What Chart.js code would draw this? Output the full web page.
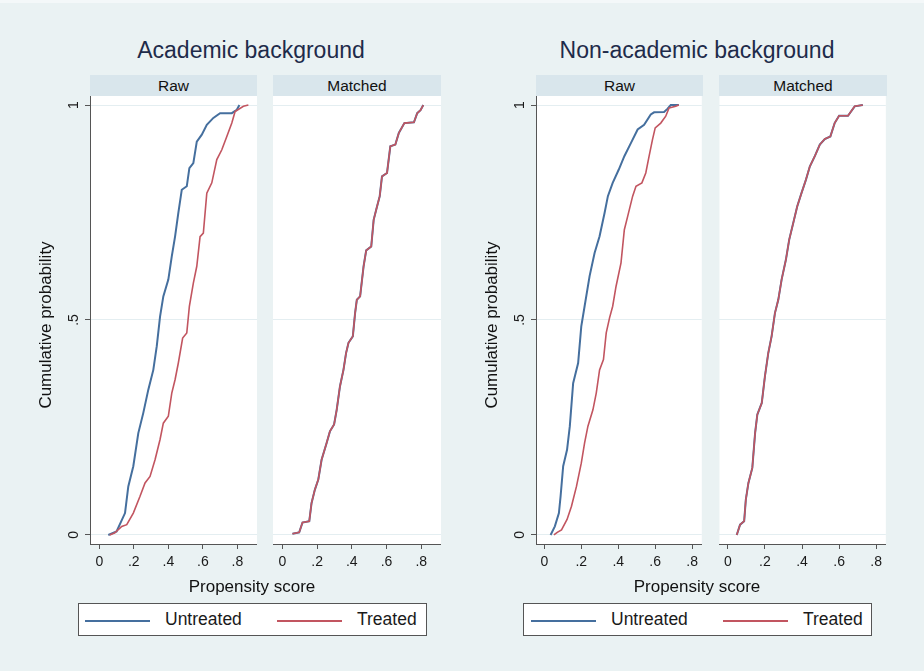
<!DOCTYPE html>
<html><head><meta charset="utf-8">
<script src="https://cdn.jsdelivr.net/npm/chart.js@4/dist/chart.umd.min.js"></script>
<style>
html,body{margin:0;padding:0;}
body{width:924px;height:671px;background:#eaf2f3;position:relative;overflow:hidden;font-family:"Liberation Sans",Arial,sans-serif;}
.abs{position:absolute;}
.topstrip{left:0;top:0;width:924px;height:3px;background:#f4f8f9;}
.title{font-size:23px;line-height:28px;color:#1e2b4a;text-align:center;white-space:nowrap;width:400px;top:36px;}
.hdr{background:#d9e6ec;font-size:15.5px;color:#111;text-align:center;line-height:21px;height:21px;top:75px;}
.xt{font-size:17px;line-height:20px;color:#111;text-align:center;white-space:nowrap;width:300px;top:577px;}
.leg{background:#fff;border:1px solid #555;box-sizing:border-box;top:603px;width:349px;height:33px;}
.ll{height:2px;width:65px;top:619.5px;}
.lt{font-size:17.5px;line-height:20px;color:#1a1a1a;top:609px;white-space:nowrap;}
canvas{position:absolute;}
</style></head><body>
<div class="abs topstrip"></div>
<canvas id="c1" width="227" height="488" style="left:30px;top:96px"></canvas>
<canvas id="c2" width="168" height="488" style="left:273px;top:96px"></canvas>
<canvas id="c3" width="227" height="488" style="left:476px;top:96px"></canvas>
<canvas id="c4" width="168" height="488" style="left:719px;top:96px"></canvas>
<div id="t1" class="abs title" style="left:51px"></div>
<div id="t2" class="abs title" style="left:497px"></div>
<div id="h1" class="abs hdr" style="left:90px;width:167px"></div>
<div id="h2" class="abs hdr" style="left:273px;width:168px"></div>
<div id="h3" class="abs hdr" style="left:536px;width:167px"></div>
<div id="h4" class="abs hdr" style="left:719px;width:168px"></div>
<div id="x1" class="abs xt" style="left:102px"></div>
<div id="x2" class="abs xt" style="left:547px"></div>
<div class="abs leg" style="left:78px"></div>
<div class="abs leg" style="left:523px"></div>
<div id="lb1" class="abs ll" style="left:85px"></div>
<div id="lu1" class="abs lt" style="left:165px"></div>
<div id="lr1" class="abs ll" style="left:277px"></div>
<div id="ltr1" class="abs lt" style="left:357px"></div>
<div id="lb2" class="abs ll" style="left:531px"></div>
<div id="lu2" class="abs lt" style="left:611px"></div>
<div id="lr2" class="abs ll" style="left:723px"></div>
<div id="ltr2" class="abs lt" style="left:803px"></div>
<script>
// ---- data ----
const groupTitles = ['Academic background', 'Non-academic background'];
const panelTitles = ['Raw', 'Matched'];
const seriesNames = ['Untreated', 'Treated'];
const xTitle = 'Propensity score';
const yTitle = 'Cumulative probability';
const xTicks = [0, 0.2, 0.4, 0.6, 0.8];
const xTickLabels = ['0', '.2', '.4', '.6', '.8'];
const yTicks = [0, 0.5, 1];
const yTickLabels = ['0', '.5', '1'];
const seriesColors = ['#456f9e', '#c25560'];

// [propensity score, cumulative probability]
const acadRawUntreated = [[0.052,0],[0.10,0.008],[0.149,0.051],[0.168,0.113],[0.197,0.16],[0.226,0.237],[0.255,0.284],[0.284,0.338],[0.313,0.384],[0.333,0.439],[0.352,0.508],[0.371,0.555],[0.40,0.594],[0.42,0.648],[0.439,0.694],[0.458,0.749],[0.478,0.803],[0.507,0.811],[0.522,0.853],[0.545,0.865],[0.565,0.915],[0.594,0.931],[0.623,0.954],[0.661,0.970],[0.70,0.981],[0.768,0.981],[0.797,0.989],[0.812,1]];
const acadRawTreated = [[0.06,0],[0.09,0.005],[0.13,0.02],[0.159,0.024],[0.197,0.051],[0.236,0.09],[0.265,0.121],[0.294,0.136],[0.323,0.175],[0.352,0.222],[0.371,0.26],[0.40,0.276],[0.42,0.33],[0.439,0.361],[0.458,0.40],[0.483,0.458],[0.507,0.47],[0.522,0.532],[0.545,0.586],[0.565,0.625],[0.584,0.694],[0.603,0.702],[0.623,0.795],[0.652,0.819],[0.681,0.873],[0.71,0.896],[0.739,0.927],[0.768,0.958],[0.787,0.985],[0.835,0.997],[0.864,1]];
const acadMatchedUntreated = [[0.058,0.003],[0.097,0.006],[0.116,0.029],[0.155,0.032],[0.168,0.074],[0.187,0.105],[0.207,0.129],[0.226,0.175],[0.255,0.214],[0.274,0.241],[0.298,0.257],[0.313,0.291],[0.332,0.346],[0.352,0.384],[0.367,0.423],[0.381,0.447],[0.406,0.462],[0.419,0.516],[0.429,0.547],[0.448,0.555],[0.468,0.625],[0.483,0.662],[0.512,0.671],[0.526,0.733],[0.541,0.757],[0.561,0.788],[0.574,0.834],[0.603,0.842],[0.622,0.904],[0.651,0.908],[0.671,0.935],[0.703,0.958],[0.758,0.960],[0.777,0.981],[0.796,0.988],[0.812,1]];
const acadMatchedTreated = [[0.058,0.003],[0.097,0.006],[0.116,0.029],[0.155,0.032],[0.168,0.074],[0.187,0.105],[0.207,0.129],[0.226,0.175],[0.255,0.214],[0.274,0.241],[0.298,0.257],[0.313,0.291],[0.332,0.346],[0.352,0.384],[0.367,0.423],[0.381,0.447],[0.406,0.462],[0.419,0.516],[0.429,0.547],[0.448,0.555],[0.468,0.625],[0.483,0.662],[0.512,0.671],[0.526,0.733],[0.541,0.757],[0.561,0.788],[0.574,0.834],[0.603,0.842],[0.622,0.904],[0.651,0.908],[0.671,0.935],[0.703,0.958],[0.758,0.960],[0.777,0.981],[0.796,0.988],[0.812,1]];
const nonRawUntreated = [[0.034,0],[0.057,0.02],[0.079,0.051],[0.088,0.09],[0.102,0.16],[0.123,0.198],[0.138,0.253],[0.156,0.353],[0.183,0.40],[0.20,0.485],[0.218,0.532],[0.245,0.602],[0.272,0.656],[0.299,0.695],[0.326,0.749],[0.344,0.788],[0.37,0.819],[0.403,0.85],[0.433,0.881],[0.469,0.912],[0.505,0.943],[0.54,0.954],[0.576,0.978],[0.594,0.983],[0.648,0.984],[0.666,0.991],[0.684,1],[0.728,1]];
const nonRawTreated = [[0.052,0],[0.07,0.006],[0.093,0.012],[0.123,0.036],[0.147,0.067],[0.174,0.113],[0.20,0.167],[0.218,0.214],[0.236,0.253],[0.263,0.291],[0.281,0.33],[0.299,0.384],[0.32,0.408],[0.335,0.47],[0.353,0.505],[0.37,0.532],[0.388,0.578],[0.415,0.633],[0.433,0.71],[0.451,0.741],[0.478,0.788],[0.496,0.811],[0.528,0.819],[0.549,0.842],[0.567,0.881],[0.585,0.919],[0.60,0.947],[0.63,0.958],[0.657,0.974],[0.675,0.993],[0.711,0.997],[0.728,1]];
const nonMatchedUntreated = [[0.048,0],[0.066,0.024],[0.088,0.032],[0.097,0.082],[0.111,0.121],[0.132,0.156],[0.147,0.237],[0.159,0.28],[0.183,0.307],[0.20,0.369],[0.218,0.423],[0.236,0.462],[0.254,0.516],[0.272,0.547],[0.29,0.594],[0.313,0.64],[0.331,0.687],[0.353,0.726],[0.374,0.764],[0.397,0.795],[0.421,0.826],[0.442,0.857],[0.469,0.881],[0.496,0.908],[0.523,0.921],[0.553,0.927],[0.576,0.958],[0.60,0.975],[0.648,0.975],[0.684,0.997],[0.728,1]];
const nonMatchedTreated = [[0.048,0],[0.066,0.024],[0.088,0.032],[0.097,0.082],[0.111,0.121],[0.132,0.156],[0.147,0.237],[0.159,0.28],[0.183,0.307],[0.20,0.369],[0.218,0.423],[0.236,0.462],[0.254,0.516],[0.272,0.547],[0.29,0.594],[0.313,0.64],[0.331,0.687],[0.353,0.726],[0.374,0.764],[0.397,0.795],[0.421,0.826],[0.442,0.857],[0.469,0.881],[0.496,0.908],[0.523,0.921],[0.553,0.927],[0.576,0.958],[0.60,0.975],[0.648,0.975],[0.684,0.997],[0.728,1]];

const acadXRange = [-0.054, 0.914];
const nonXRange = [-0.045, 0.852];
const yRange = [-0.021, 1.021];

// ---- text ----
document.getElementById('t1').textContent = groupTitles[0];
document.getElementById('t2').textContent = groupTitles[1];
document.getElementById('h1').textContent = panelTitles[0];
document.getElementById('h2').textContent = panelTitles[1];
document.getElementById('h3').textContent = panelTitles[0];
document.getElementById('h4').textContent = panelTitles[1];
document.getElementById('x1').textContent = xTitle;
document.getElementById('x2').textContent = xTitle;
['lu1','lu2'].forEach(id => document.getElementById(id).textContent = seriesNames[0]);
['ltr1','ltr2'].forEach(id => document.getElementById(id).textContent = seriesNames[1]);
['lb1','lb2'].forEach(id => document.getElementById(id).style.background = seriesColors[0]);
['lr1','lr2'].forEach(id => document.getElementById(id).style.background = seriesColors[1]);

const FONT = '"Liberation Sans", Arial, sans-serif';

const deco = {
  id: 'deco',
  beforeDraw(chart) {
    const a = chart.chartArea, ctx = chart.ctx;
    ctx.save();
    ctx.fillStyle = '#ffffff';
    ctx.fillRect(a.left, a.top, a.right - a.left, a.bottom - a.top);
    ctx.restore();
  },
  afterDraw(chart, args, opts) {
    if (!opts.showY) return;
    const a = chart.chartArea, ctx = chart.ctx, ys = chart.scales.y;
    ctx.save();
    ctx.fillStyle = '#1a1a1a';
    ctx.textAlign = 'center';
    ctx.textBaseline = 'middle';
    ctx.font = '14px ' + FONT;
    yTicks.forEach((v, i) => {
      ctx.save();
      ctx.translate(a.left - 16, ys.getPixelForValue(v));
      ctx.rotate(-Math.PI / 2);
      ctx.fillText(yTickLabels[i], 0, 0);
      ctx.restore();
    });
    ctx.font = '17px ' + FONT;
    ctx.fillStyle = '#111';
    const my = (ys.getPixelForValue(0) + ys.getPixelForValue(1)) / 2 + 5;
    ctx.translate(a.left - 44, my);
    ctx.rotate(-Math.PI / 2);
    ctx.fillText(yTitle, 0, 0);
    ctx.restore();
  }
};

function toXY(arr) { return arr.map(p => ({x: p[0], y: p[1]})); }

function panel(id, untreated, treated, xr, showY) {
  new Chart(document.getElementById(id), {
    type: 'line',
    data: {
      datasets: [
        {label: seriesNames[0], data: toXY(untreated), borderColor: seriesColors[0], borderWidth: 2, pointRadius: 0, tension: 0, fill: false, order: 1},
        {label: seriesNames[1], data: toXY(treated), borderColor: seriesColors[1], borderWidth: 1.6, pointRadius: 0, tension: 0, fill: false, order: 0}
      ]
    },
    options: {
      responsive: false,
      animation: false,
      layout: {padding: 0},
      plugins: {legend: {display: false}, tooltip: {enabled: false}, deco: {showY: showY}},
      scales: {
        x: {
          type: 'linear', min: xr[0], max: xr[1],
          afterFit(s) { s.height = 40; },
          afterBuildTicks(s) { s.ticks = xTicks.map(v => ({value: v})); },
          ticks: {autoSkip: false, maxRotation: 0, minRotation: 0, padding: 5, color: '#1a1a1a',
                  font: {size: 14, family: FONT}, callback: (v, i) => xTickLabels[i]},
          grid: {drawOnChartArea: false, drawTicks: true, tickLength: 5, tickColor: '#555', tickWidth: 1},
          border: {display: true, color: '#555', width: 1}
        },
        y: {
          type: 'linear', min: yRange[0], max: yRange[1],
          afterFit(s) { s.width = showY ? 60 : 0; },
          afterBuildTicks(s) { s.ticks = yTicks.map(v => ({value: v})); },
          ticks: {display: false},
          grid: {color: '#e4eef1', lineWidth: 1, drawTicks: showY, tickLength: 5, tickColor: '#555', tickWidth: 1},
          border: {display: showY, color: '#555', width: 1}
        }
      }
    },
    plugins: [deco]
  });
}

panel('c1', acadRawUntreated, acadRawTreated, acadXRange, true);
panel('c2', acadMatchedUntreated, acadMatchedTreated, acadXRange, false);
panel('c3', nonRawUntreated, nonRawTreated, nonXRange, true);
panel('c4', nonMatchedUntreated, nonMatchedTreated, nonXRange, false);
</script>
</body></html>
